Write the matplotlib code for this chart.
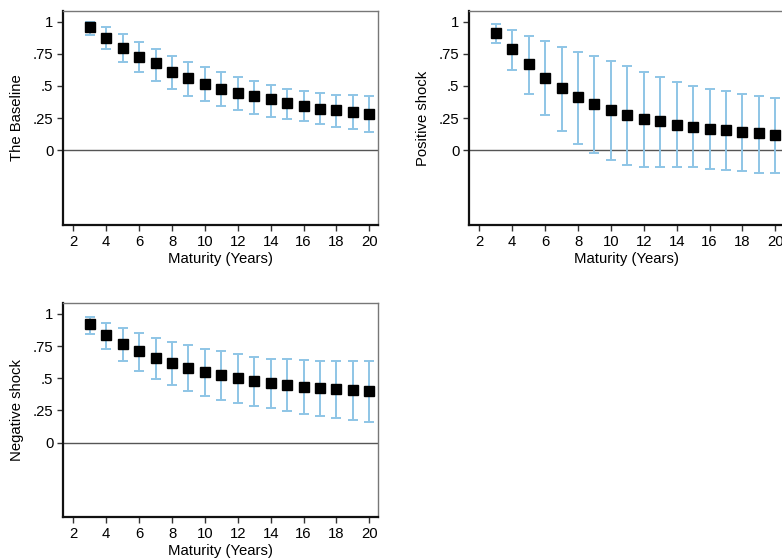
import matplotlib
matplotlib.use("Agg")
import matplotlib.pyplot as plt
import numpy as np

plt.rcParams['font.family'] = ['Liberation Sans', 'DejaVu Sans']

maturity = list(range(3, 21))

base_est = [0.956, 0.870, 0.795, 0.728, 0.676, 0.611, 0.565, 0.518, 0.477, 0.443,
            0.420, 0.396, 0.368, 0.347, 0.324, 0.311, 0.300, 0.285]
base_hi = [0.995, 0.956, 0.902, 0.842, 0.788, 0.736, 0.689, 0.645, 0.609, 0.570,
           0.539, 0.508, 0.477, 0.461, 0.443, 0.433, 0.427, 0.422]
base_lo = [0.894, 0.785, 0.689, 0.606, 0.536, 0.477, 0.425, 0.383, 0.342, 0.313,
           0.285, 0.262, 0.246, 0.225, 0.205, 0.184, 0.163, 0.145]

pos_est = [0.912, 0.790, 0.671, 0.560, 0.487, 0.412, 0.360, 0.313, 0.277, 0.244,
           0.228, 0.199, 0.184, 0.168, 0.161, 0.142, 0.135, 0.122]
pos_hi = [0.982, 0.933, 0.886, 0.847, 0.801, 0.767, 0.731, 0.692, 0.655, 0.611,
          0.570, 0.531, 0.497, 0.477, 0.461, 0.438, 0.425, 0.404]
pos_lo = [0.832, 0.627, 0.435, 0.272, 0.153, 0.049, -0.023, -0.075, -0.111, -0.127,
          -0.132, -0.132, -0.132, -0.145, -0.155, -0.163, -0.174, -0.176]

neg_est = [0.920, 0.835, 0.767, 0.708, 0.659, 0.618, 0.581, 0.550, 0.525, 0.499,
           0.481, 0.465, 0.447, 0.429, 0.424, 0.416, 0.408, 0.401]
neg_hi = [0.972, 0.928, 0.889, 0.853, 0.814, 0.780, 0.755, 0.729, 0.708, 0.690,
          0.667, 0.651, 0.646, 0.641, 0.636, 0.630, 0.630, 0.630]
neg_lo = [0.845, 0.729, 0.636, 0.558, 0.496, 0.444, 0.401, 0.362, 0.331, 0.305,
          0.284, 0.266, 0.243, 0.222, 0.204, 0.194, 0.176, 0.160]

ytick_vals = [0, 0.25, 0.5, 0.75, 1]
ytick_labels = ['0', '.25', '.5', '.75', '1']
xtick_vals = list(range(2, 21, 2))
xlabel = 'Maturity (Years)'

panels = [
    ('The Baseline', base_est, base_lo, base_hi, [63, 11, 378, 225]),
    ('Positive shock', pos_est, pos_lo, pos_hi, [469, 11, 784, 225]),
    ('Negative shock', neg_est, neg_lo, neg_hi, [63, 303.3, 378, 517.3]),
]

W, H = 782, 558
fig = plt.figure(figsize=(W / 100, H / 100), dpi=100)
fig.patch.set_facecolor('white')

err_color = '#8ec5e6'
fs = 10.7

for ylab, est, lo, hi, box in panels:
    x0, y0, x1, y1 = box
    ax = fig.add_axes([x0 / W, 1 - y1 / H, (x1 - x0) / W, (y1 - y0) / H])
    est = np.array(est)
    lo = np.array(lo)
    hi = np.array(hi)
    ax.axhline(0, color='#555555', lw=1.0, zorder=1)
    ax.errorbar(maturity, est, yerr=[est - lo, hi - est], fmt='none',
                ecolor=err_color, elinewidth=1.4, capsize=3.8, capthick=1.4, zorder=2)
    ax.plot(maturity, est, 's', color='black', markersize=6.6, zorder=3)
    ax.set_xlim(1.37, 20.53)
    ax.set_ylim(-0.58, 1.082)
    ax.set_xticks(xtick_vals)
    ax.set_yticks(ytick_vals)
    ax.set_yticklabels(ytick_labels)
    ax.tick_params(direction='out', length=4, width=1.0, color='#333333',
                   labelsize=fs, pad=3)
    for s in ['left', 'bottom']:
        ax.spines[s].set_color('#111111')
        ax.spines[s].set_linewidth(1.6)
    for s in ['top', 'right']:
        ax.spines[s].set_color('#777777')
        ax.spines[s].set_linewidth(1.0)
    ax.set_xlabel(xlabel, fontsize=fs, labelpad=2)
    ax.set_ylabel(ylab, fontsize=fs, labelpad=6)

fig.savefig('out.png', dpi=100)
